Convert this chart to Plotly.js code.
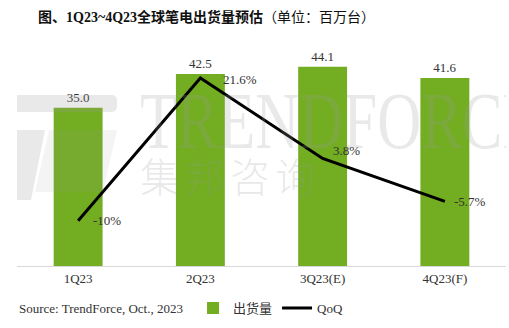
<!DOCTYPE html>
<html><head><meta charset="utf-8">
<script src="https://cdn.plot.ly/plotly-3.0.1.min.js"></script>
<style>html,body{margin:0;padding:0;background:#fff}#chart{width:509px;height:328px}</style>
</head><body><div id="chart"></div>
<script>
var categories = ['1Q23', '2Q23', '3Q23(E)', '4Q23(F)'];
var shipments = [35.0, 42.5, 44.1, 41.6];
var qoq = [-10, 21.6, 3.8, -5.7];
var qoqLabels = ['-10%', '21.6%', '3.8%', '-5.7%'];
var shipmentLabels = ['35.0', '42.5', '44.1', '41.6'];

// label offsets (styling only, pixels)
var qoqLabelShiftX = [13, 21, 8, 7];
var qoqLabelShiftY = [0, -2, 8, 0];

var serif = 'Liberation Serif, Times New Roman, Noto Sans CJK SC, serif';
var cjk = 'Liberation Serif, Noto Sans CJK SC, sans-serif';

var wm = '<svg xmlns="http://www.w3.org/2000/svg" width="489" height="226" viewBox="0 0 489 226">' +
  '<g fill="#9a9a9a" fill-opacity="0.22">' +
  '<rect x="-14" y="55" width="114" height="17" rx="5"/>' +
  '<polygon points="-14,90 28,90 14,160 -14,160"/>' +
  '</g>' +
  '<g fill="#9a9a9a" fill-opacity="0.11">' +
  '<polygon points="32,90 100,90 86,152 18,152"/>' +
  '</g>' +
  '<g fill="#9a9a9a" fill-opacity="0.22">' +
  '<text transform="translate(123,108) scale(1,1.32)" font-family="Liberation Serif, serif" font-size="61">TRENDFORCE</text>' +
  '<text x="123" y="152" font-family="Noto Sans CJK SC, sans-serif" font-weight="300" font-size="40" letter-spacing="5">集邦咨询</text>' +
  '</g>' +
  '</svg>';

var bars = {
  type: 'bar', name: '出货量', x: categories, y: shipments,
  marker: {color: '#72ad22'}, width: 0.4,
  text: shipmentLabels, textposition: 'outside', cliponaxis: false,
  textfont: {family: serif, size: 13, color: '#333'},
  hoverinfo: 'skip'
};
var line = {
  type: 'scatter', mode: 'lines', name: 'QoQ', x: categories, y: qoq,
  yaxis: 'y2', line: {color: '#000', width: 3},
  hoverinfo: 'skip'
};

var annotations = [{
  text: 'Source: TrendForce, Oct., 2023', xref: 'paper', yref: 'paper',
  x: 0, xanchor: 'left', y: -0.186, yanchor: 'middle', showarrow: false,
  font: {family: serif, size: 13, color: '#333'}
}];
for (var i = 0; i < categories.length; i++) {
  annotations.push({
    text: qoqLabels[i], x: categories[i], y: qoq[i], xref: 'x', yref: 'y2',
    xanchor: 'left', yanchor: 'middle', showarrow: false,
    xshift: qoqLabelShiftX[i], yshift: qoqLabelShiftY[i],
    font: {family: serif, size: 13, color: '#333'}
  });
}

var layout = {
  width: 509, height: 328,
  margin: {l: 17, r: 3, t: 40, b: 62},
  paper_bgcolor: '#fff', plot_bgcolor: 'rgba(0,0,0,0)',
  showlegend: true,
  title: {
    text: '<b>图、1Q23~4Q23全球笔电出货量预估</b>（单位：百万台）',
    font: {family: cjk, size: 14, color: '#111'},
    x: 0.043, xanchor: 'left', xref: 'paper', y: 0.948, yanchor: 'middle'
  },
  xaxis: {
    type: 'category', showgrid: false, zeroline: false,
    showline: true, linecolor: '#d9d9d9', linewidth: 1, ticks: '',
    tickfont: {family: serif, size: 13, color: '#333'}, fixedrange: true
  },
  yaxis: {range: [0, 50], visible: false, fixedrange: true},
  yaxis2: {range: [-20, 30], overlaying: 'y', side: 'right', visible: false, fixedrange: true},
  legend: {
    orientation: 'h', x: 0.36, xanchor: 'left', y: -0.186, yanchor: 'middle',
    font: {family: cjk, size: 13, color: '#333'}, bgcolor: 'rgba(0,0,0,0)',
    itemwidth: 30, tracegroupgap: 0
  },
  annotations: annotations,
  images: [{
    source: 'data:image/svg+xml;charset=utf-8,' + encodeURIComponent(wm),
    xref: 'paper', yref: 'paper', x: 0, y: 1, sizex: 1, sizey: 1,
    xanchor: 'left', yanchor: 'top', sizing: 'stretch', layer: 'above'
  }]
};

Plotly.newPlot('chart', [bars, line], layout, {displayModeBar: false, staticPlot: true});
</script></body></html>
